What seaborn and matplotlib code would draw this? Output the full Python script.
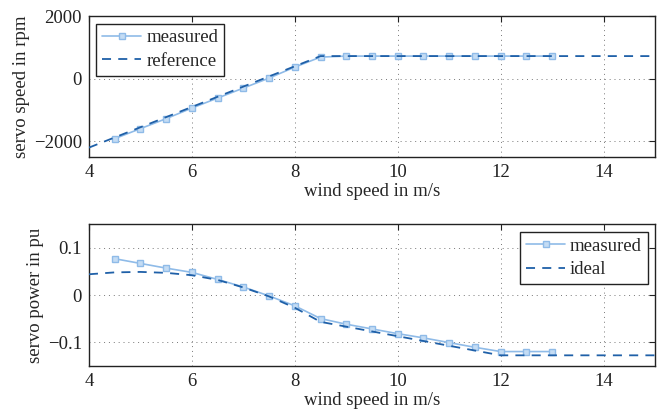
import numpy as np
import pandas as pd
import matplotlib
matplotlib.use("Agg")
import matplotlib.pyplot as plt
import seaborn as sns

# data
meas_x = [4.5, 5, 5.5, 6, 6.5, 7, 7.5, 8, 8.5, 9, 9.5, 10, 10.5, 11, 11.5, 12, 12.5, 13]
speed_meas = [-1914, -1595, -1276, -938, -619, -300, 19, 370, 689, 721, 721, 721, 721, 721, 721, 721, 721, 721]
ref_x = [4, 8.5, 15]
speed_ref = [-2200, 721, 721]
power_meas = [0.077, 0.067, 0.057, 0.048, 0.033, 0.017, -0.002, -0.023, -0.050, -0.062, -0.072,
              -0.082, -0.091, -0.101, -0.111, -0.120, -0.120, -0.120]
ideal_x = [4, 4.5, 5, 5.5, 6, 6.5, 7, 7.5, 8, 8.5, 12, 15]
power_ideal = [0.044, 0.048, 0.049, 0.047, 0.042, 0.032, 0.016, -0.003, -0.027, -0.057, -0.128, -0.128]
xticks = [4, 6, 8, 10, 12, 14]

FS = 13.5

sns.set_style("white")
plt.rcParams['font.family'] = ['Liberation Serif', 'DejaVu Serif']
plt.rcParams['font.size'] = FS

c_meas = "#8fbbe8"
c_face = "#c4dcf4"
c_ref = "#1f60a8"

fig = plt.figure(figsize=(6.61, 4.15), dpi=100)
ax1 = fig.add_axes([0.1346, 0.6217, 0.8564, 0.3397])
ax2 = fig.add_axes([0.1346, 0.1188, 0.8564, 0.3407])

def style(ax):
    ax.set_xlim(4, 15)
    ax.set_xticks(xticks)
    ax.grid(True, linestyle=(0, (1, 4)), color="#777777", linewidth=0.7)
    ax.tick_params(direction="in", top=True, right=True, length=4, width=0.8,
                   labelsize=FS, colors="#222222", pad=5)
    for s in ax.spines.values():
        s.set_color("#222222")
        s.set_linewidth(1.0)
    ax.set_xlabel("wind speed in m/s", fontsize=FS, labelpad=1.5)

# top
sns.lineplot(x=meas_x, y=speed_meas, ax=ax1, color=c_meas, marker="s", markersize=4.5,
             markerfacecolor=c_face, markeredgecolor=c_meas, markeredgewidth=1.0,
             linewidth=1.2, label="measured", zorder=2)
sns.lineplot(x=ref_x, y=speed_ref, ax=ax1, color=c_ref, linestyle=(0, (5, 4)),
             linewidth=1.3, label="reference", zorder=3)
ax1.set_ylim(-2500, 2000)
ax1.set_yticks([-2000, 0, 2000])
ax1.set_yticklabels(["\u22122000", "0", "2000"])
ax1.set_ylabel("servo speed in rpm", fontsize=FS, labelpad=3)
style(ax1)
leg1 = ax1.legend(loc="upper left", handlelength=2.1, fancybox=False, framealpha=1,
                  edgecolor="#222222", borderpad=0.3, labelspacing=0.35, handletextpad=0.25,
                  borderaxespad=0.4, fontsize=FS)
leg1.get_frame().set_linewidth(1.0)

# bottom
sns.lineplot(x=meas_x, y=power_meas, ax=ax2, color=c_meas, marker="s", markersize=4.5,
             markerfacecolor=c_face, markeredgecolor=c_meas, markeredgewidth=1.0,
             linewidth=1.2, label="measured", zorder=2)
sns.lineplot(x=ideal_x, y=power_ideal, ax=ax2, color=c_ref, linestyle=(0, (5, 4)),
             linewidth=1.3, label="ideal", zorder=3)
ax2.set_ylim(-0.15, 0.15)
ax2.set_yticks([-0.1, 0, 0.1])
ax2.set_yticklabels(["\u22120.1", "0", "0.1"])
ax2.set_ylabel("servo power in pu", fontsize=FS, labelpad=3)
style(ax2)
leg2 = ax2.legend(loc="upper right", handlelength=2.1, fancybox=False, framealpha=1,
                  edgecolor="#222222", borderpad=0.3, labelspacing=0.35, handletextpad=0.25,
                  borderaxespad=0.4, fontsize=FS)
leg2.get_frame().set_linewidth(1.0)

fig.savefig("out.png", dpi=100)
